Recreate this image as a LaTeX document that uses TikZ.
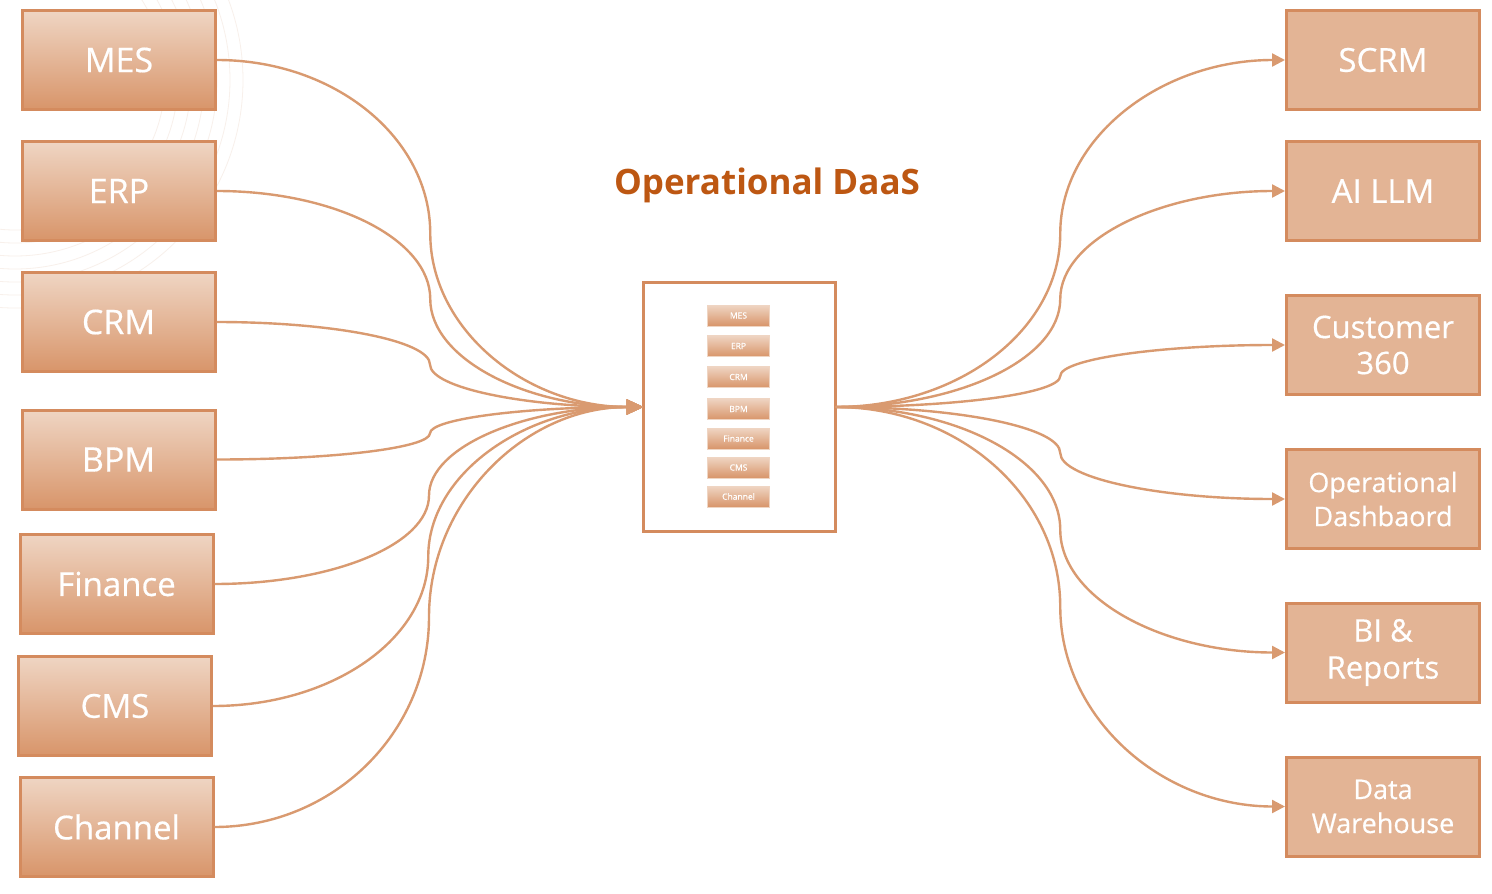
\documentclass[tikz,border=0pt]{standalone}
\usepackage{fontspec}
\setmainfont{Open Sans}
\newfontfamily\boxfont{Open Sans}[FakeBold=0.5]
\usetikzlibrary{calc,arrows.meta}
\definecolor{lnc}{HTML}{D99A70}
\definecolor{bord}{HTML}{D48B5E}
\definecolor{gtop}{HTML}{EFD5C3}
\definecolor{gbot}{HTML}{D8956A}
\definecolor{rfill}{HTML}{E3B495}
\definecolor{ttl}{HTML}{BD5712}
\definecolor{faint}{HTML}{F8F0EB}
\begin{document}
\begin{tikzpicture}[x=1pt,y=1pt,
  srcbox/.style={draw=bord,line width=3pt,top color=gtop,bottom color=gbot,
    minimum width=193pt,minimum height=99pt,text=white,
    font=\boxfont\fontsize{33}{40}\selectfont,inner sep=0pt,outer sep=1.5pt},
  dstbox/.style={draw=bord,line width=3pt,fill=rfill,
    minimum width=193pt,minimum height=99pt,text=white,align=center,
    inner sep=0pt,outer sep=1.5pt},
  minibox/.style={draw=gtop,line width=0.6pt,top color=gtop,bottom color=gbot,
    minimum width=62pt,minimum height=21pt,text=white,
    font=\boxfont\fontsize{8.5}{9}\selectfont,inner sep=0pt},
  hubbox/.style={draw=bord,line width=2.5pt,fill=white,
    minimum width=192pt,minimum height=249pt,inner sep=0pt,outer sep=0pt},
  conn/.style={draw=lnc,line width=2.4pt},
  inarrow/.style={-{Triangle[length=17pt,width=15pt]}},
  outarrow/.style={-{Triangle[length=13pt,width=13pt]}},
  faintline/.style={draw=faint,line width=0.8pt}
]
\useasboundingbox[fill=white] (0,0) rectangle (1492,-894);

% faint decorative circles
\begin{scope}
  \clip (0,0) rectangle (1492,-894);
  \foreach \r in {150,163,176,189,202,215,228}
    \draw[faintline] (15,-80) circle (\r);
\end{scope}

% title
\node[text=ttl,font=\fontsize{35}{40}\selectfont\bfseries] (title) at (767,-185) {Operational DaaS};

% hub
\node[hubbox] (daas) at (739.5,-407) {};
\node[minibox] (smes) at (738.5,-315.5) {MES};
\node[minibox] (serp) at (738.5,-346) {ERP};
\node[minibox] (scrm) at (738.5,-377) {CRM};
\node[minibox] (sbpm) at (738.5,-409) {BPM};
\node[minibox] (sfin) at (738.5,-438.5) {Finance};
\node[minibox] (scms) at (738.5,-467.5) {CMS};
\node[minibox] (schn) at (738.5,-496.5) {Channel};

% sources
\node[srcbox,font=\boxfont\fontsize{34}{40}\selectfont] (mes) at (119,-60) {MES};
\node[srcbox,font=\boxfont\fontsize{34}{40}\selectfont] (erp) at (119,-191) {ERP};
\node[srcbox,font=\boxfont\fontsize{34}{40}\selectfont] (crm) at (118.5,-322) {CRM};
\node[srcbox,font=\boxfont\fontsize{34}{40}\selectfont] (bpm) at (118.5,-459.5) {BPM};
\node[srcbox] (fin) at (116.5,-584) {Finance};
\node[srcbox] (cms) at (115,-706) {CMS};
\node[srcbox] (chn) at (116.5,-827) {Channel};

% destinations
\node[dstbox,font=\boxfont\fontsize{33}{40}\selectfont] (dscrm) at (1383,-60) {SCRM};
\node[dstbox,font=\boxfont\fontsize{33}{40}\selectfont] (dai) at (1383,-191) {AI LLM};
\node[dstbox,font=\boxfont\fontsize{31}{36}\selectfont] (dcus) at (1383,-345) {Customer\\360};
\node[dstbox,font=\boxfont\fontsize{27}{34}\selectfont] (dops) at (1383,-499) {Operational\\Dashbaord};
\node[dstbox,font=\boxfont\fontsize{31}{37}\selectfont] (dbi) at (1383,-652.5) {BI \&\\Reports};
\node[dstbox,font=\boxfont\fontsize{27}{34}\selectfont] (ddw) at (1383,-806.5) {Data\\Warehouse};

% incoming connectors
\foreach \s in {mes,erp,crm,bpm,fin,cms,chn}{
  \path (\s.east) -- (daas.west) coordinate[pos=.5] (m\s);
  \draw[conn,inarrow] (\s.east)
    .. controls ($(\s.east)!.552!(\s.east-|m\s)$) and ($(m\s)!.552!(m\s|-\s.east)$) .. (m\s)
    .. controls ($(m\s)!.552!(m\s|-daas.west)$) and ($(daas.west)!.552!(daas.west-|m\s)$) .. (daas.west);
}

% outgoing connectors
\foreach \d in {dscrm,dai,dcus,dops,dbi,ddw}{
  \path (daas.east) -- (\d.west) coordinate[pos=.5] (n\d);
  \draw[conn,outarrow] (daas.east)
    .. controls ($(daas.east)!.552!(daas.east-|n\d)$) and ($(n\d)!.552!(n\d|-daas.east)$) .. (n\d)
    .. controls ($(n\d)!.552!(n\d|-\d.west)$) and ($(\d.west)!.552!(\d.west-|n\d)$) .. (\d.west);
}
\end{tikzpicture}
\end{document}
